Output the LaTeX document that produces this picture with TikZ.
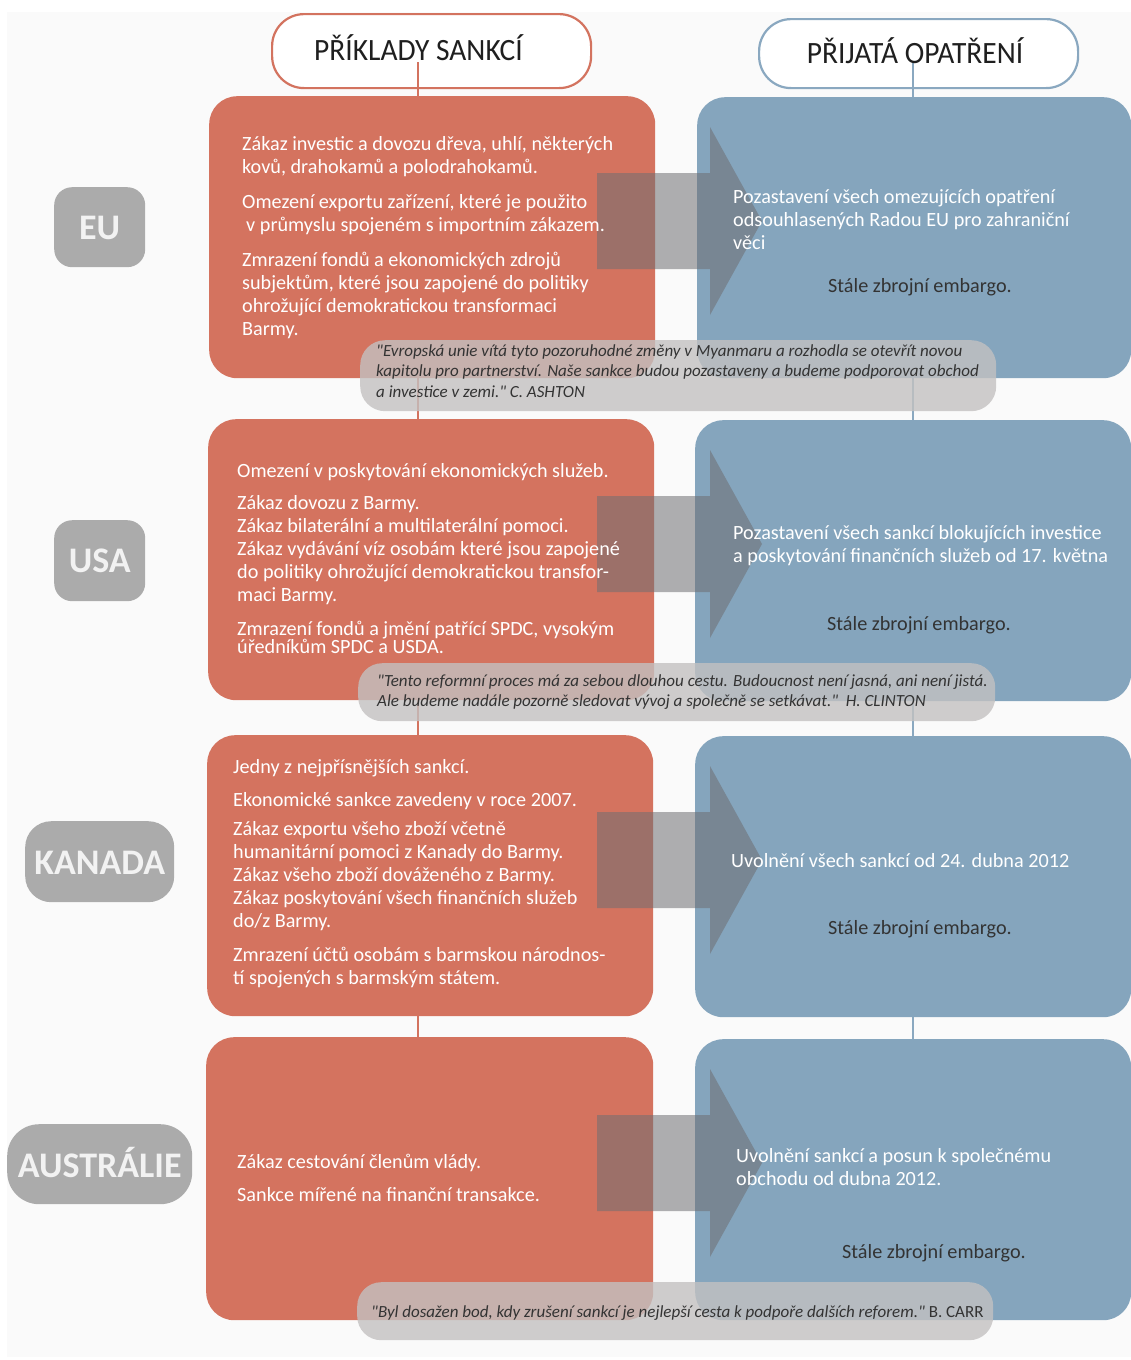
\documentclass[tikz,border=0pt]{standalone}
\usepackage{fontspec}
\setmainfont{Carlito}
\newfontfamily\hdrfont[FakeStretch=0.95]{Carlito}
\newfontfamily\qfont[FakeStretch=1.0]{Carlito}
\definecolor{bgc}{HTML}{FAFAFA}
\definecolor{redc}{HTML}{D4735F}
\definecolor{bluec}{HTML}{85A5BD}
\definecolor{lblc}{HTML}{ABABAB}
\definecolor{lbltxt}{HTML}{F2F2F2}
\definecolor{arrc}{HTML}{6E6E72}
\definecolor{quotec}{HTML}{C3C1C1}
\definecolor{darktxt}{HTML}{333333}
\definecolor{hdrred}{HTML}{D3735F}
\definecolor{hdrblue}{HTML}{8AA8C0}
\tikzset{
  boxbase/.style={rectangle, inner sep=0pt, anchor=north west, draw=none},
  redbox/.style={boxbase, rounded corners=28pt, fill=redc},
  bluebox/.style={boxbase, rounded corners=28pt, fill=bluec},
  lblbox/.style={boxbase, fill=lblc},
  hdrbox/.style={boxbase, rounded corners=32pt, fill=white, line width=2.2pt},
  quotebox/.style={boxbase, rounded corners=25pt, fill=quotec, fill opacity=0.8},
  bigarrow/.style={fill=arrc, fill opacity=0.55},
  bodytxt/.style={anchor=base west, inner sep=0pt, text=white, font=\fontsize{20.2}{23}\selectfont},
  embtxt/.style={anchor=base, inner sep=0pt, text=darktxt, font=\fontsize{20.2}{23}\selectfont},
  quotetxt/.style={anchor=base west, inner sep=0pt, text=darktxt, font=\qfont\itshape\fontsize{17}{20.5}\selectfont},
  hdrtxt/.style={anchor=base, inner sep=0pt, text=black!88, font=\hdrfont\fontsize{31}{34}\selectfont},
  lbltext/.style={anchor=base, inner sep=0pt, text=lbltxt, font=\bfseries\fontsize{36}{40}\selectfont},
  redline/.style={draw=hdrred, line width=2pt},
  blueline/.style={draw=hdrblue, line width=2pt}
}
\newcommand\bigarr[1]{\fill[bigarrow] (597,{#1-48}) -- (710,{#1-48}) -- (710,{#1-94}) -- (762,#1) -- (710,{#1+94}) -- (710,{#1+48}) -- (597,{#1+48}) -- cycle;}
\begin{document}
\begin{tikzpicture}[x=1pt,y=-1pt]
\useasboundingbox (0,0) rectangle (1131,1360);
\fill[white] (0,0) rectangle (1131,1360);
\fill[bgc] (7,12) rectangle (1131,1357);

% headers
\node[hdrbox, draw=hdrred, minimum width=319pt, minimum height=74pt] (hdrL) at (271,13) {};
\node[hdrbox, draw=hdrblue, minimum width=319pt, minimum height=69pt] (hdrR) at (758,18) {};

% vertical connectors
\coordinate (redstart) at (418,62);
\coordinate (redend) at (418,1040);
\coordinate (bluestart) at (913,63);
\coordinate (blueend) at (913,1042);
\draw[redline] (redstart) -- (redend);
\draw[blueline] (bluestart) -- (blueend);

\node[hdrtxt] (hdrLt) at (418.5,60) {PŘÍKLADY SANKCÍ};
\node[hdrtxt] (hdrRt) at (915,63) {PŘIJATÁ OPATŘENÍ};

% red boxes
\node[redbox, minimum width=446pt, minimum height=282pt] (eured) at (209,96) {};
\node[redbox, minimum width=446pt, minimum height=281pt] (usared) at (208,419) {};
\node[redbox, minimum width=446pt, minimum height=281pt] (kanred) at (207,735) {};
\node[redbox, minimum width=447pt, minimum height=283pt] (ausred) at (206,1037) {};

% blue boxes
\node[bluebox, minimum width=434pt, minimum height=281pt] (eublue) at (697,97) {};
\node[bluebox, minimum width=436pt, minimum height=281pt] (usablue) at (695,420) {};
\node[bluebox, minimum width=436pt, minimum height=281pt] (kanblue) at (695,736) {};
\node[bluebox, minimum width=436pt, minimum height=281pt] (ausblue) at (695,1039) {};

% country labels
\node[lblbox, rounded corners=18pt, minimum width=91pt, minimum height=80pt] (eulbl) at (54,187) {};
\node[lblbox, rounded corners=18pt, minimum width=91pt, minimum height=81pt] (usalbl) at (54,520) {};
\node[lblbox, rounded corners=26pt, minimum width=149pt, minimum height=81pt] (kanlbl) at (25,821) {};
\node[lblbox, rounded corners=32pt, minimum width=185pt, minimum height=80pt] (auslbl) at (7,1124) {};
\node[lbltext] (eulblt) at ([yshift=-12pt]eulbl.center) {EU};
\node[lbltext] (usalblt) at ([yshift=-12pt]usalbl.center) {USA};
\node[lbltext] (kanlblt) at ([yshift=-13pt]kanlbl.center) {KANADA};
\node[lbltext] (auslblt) at ([yshift=-13pt]auslbl.center) {AUSTRÁLIE};

% big arrows
\bigarr{221}
\bigarr{544}
\bigarr{860}
\bigarr{1163}

% quote boxes
\node[quotebox, minimum width=636pt, minimum height=71pt] (euq) at (360,340) {};
\node[quotebox, rounded corners=24pt, minimum width=637pt, minimum height=58pt] (usaq) at (358,663) {};
\node[quotebox, rounded corners=24pt, minimum width=636pt, minimum height=58pt] (ausq) at (357,1282) {};

% left texts
\node[bodytxt] (eutl) at (242,150) {\parbox[t]{440pt}{\raggedright
Zákaz investic a dovozu dřeva, uhlí, některých\\
kovů, drahokamů a polodrahokamů.\\[12pt]
Omezení exportu zařízení, které je použito\\
\hspace*{4pt}v průmyslu spojeném s importním zákazem.\\[12pt]
Zmrazení fondů a ekonomických zdrojů\\
subjektům, které jsou zapojené do politiky\\
ohrožující demokratickou transformaci\\
Barmy.}};

\node[bodytxt] (usatl) at (237,477) {\parbox[t]{440pt}{\raggedright
Omezení v poskytování ekonomických služeb.\\[9pt]
Zákaz dovozu z Barmy.\\
Zákaz bilaterální a multilaterální pomoci.\\
Zákaz vydávání víz osobám které jsou zapojené\\
do politiky ohrožující demokratickou transfor-\\
maci Barmy.\\[11pt]
Zmrazení fondů a jmění patřící SPDC, vysokým\\[-5pt]
úředníkům SPDC a USDA.}};

\node[bodytxt] (kantl) at (233,773) {\parbox[t]{440pt}{\raggedright
Jedny z nejpřísnějších sankcí.\\[10.5pt]
Ekonomické sankce zavedeny v roce 2007.\\[6pt]
Zákaz exportu všeho zboží včetně\\
humanitární pomoci z Kanady do Barmy.\\
Zákaz všeho zboží dováženého z Barmy.\\
Zákaz poskytování všech finančních služeb\\
do/z Barmy.\\[10.5pt]
Zmrazení účtů osobám s barmskou národnos-\\
tí spojených s barmským státem.}};

\node[bodytxt] (austl) at (237,1168) {\parbox[t]{440pt}{\raggedright
Zákaz cestování členům vlády.\\[10pt]
Sankce mířené na finanční transakce.}};

% right texts
\node[bodytxt] (eutr) at (733,203) {\parbox[t]{400pt}{\raggedright
Pozastavení všech omezujících opatření\\
odsouhlasených Radou EU pro zahraniční\\
věci}};
\node[embtxt] (eue) at (920,292) {Stále zbrojní embargo.};

\node[bodytxt] (usatr) at (733,539) {\parbox[t]{400pt}{\raggedright
Pozastavení všech sankcí blokujících investice\\
a poskytování finančních služeb od 17. května}};
\node[embtxt] (usae) at (919,630) {Stále zbrojní embargo.};

\node[bodytxt] (kantr) at (731,867) {Uvolnění všech sankcí od 24. dubna 2012};
\node[embtxt] (kane) at (920,934) {Stále zbrojní embargo.};

\node[bodytxt] (austr) at (736,1162) {\parbox[t]{400pt}{\raggedright
Uvolnění sankcí a posun k společnému\\
obchodu od dubna 2012.}};
\node[embtxt] (ause) at (934,1258) {Stále zbrojní embargo.};

% quotes
\node[quotetxt] (euqt) at (376,356) {\parbox[t]{620pt}{\raggedright
"Evropská unie vítá tyto pozoruhodné změny v Myanmaru a rozhodla se otevřít novou\\
kapitolu pro partnerství. Naše sankce budou pozastaveny a budeme podporovat obchod\\
a investice v zemi." C. ASHTON}};
\node[quotetxt] (usaqt) at (377,686) {\parbox[t]{620pt}{\raggedright
"Tento reformní proces má za sebou dlouhou cestu. Budoucnost není jasná, ani není jistá.\\
Ale budeme nadále pozorně sledovat vývoj a společně se setkávat."\ \ H. CLINTON}};
\node[quotetxt] (ausqt) at (371,1317) {"Byl dosažen bod, kdy zrušení sankcí je nejlepší cesta k podpoře dalších reforem." {\upshape B. CARR}};
\end{tikzpicture}
\end{document}
